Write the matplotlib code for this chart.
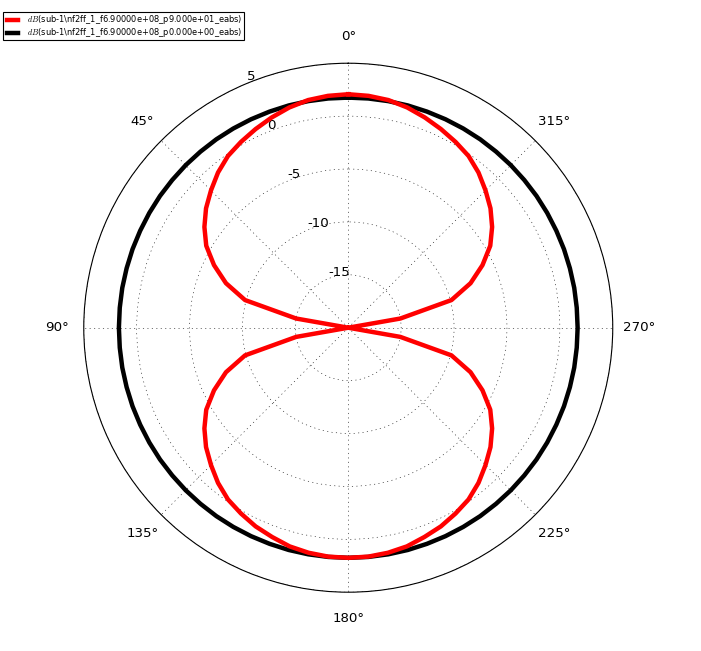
import numpy as np
import matplotlib
matplotlib.use("Agg")
import matplotlib.pyplot as plt

plt.style.use("classic")
plt.rcParams["axes.unicode_minus"] = False

# angles (degrees) at which the patterns are sampled
theta_deg = list(range(0, 361, 5))

# red: phi = 90 cut (dB)
red_db = [2.07, 2.00, 1.85, 1.55, 1.15, 0.72, 0.28, -0.18, -0.85, -1.65,
          -2.45, -3.40, -4.50, -6.00, -7.70, -9.90, -15.0, -20.0, -20.0,
          -20.0, -15.0, -9.90, -7.70, -6.00, -4.50, -3.40, -2.45, -1.65,
          -0.85, -0.18, 0.28, 0.72, 1.05, 1.40, 1.60, 1.72, 1.75,
          1.72, 1.60, 1.40, 1.05, 0.72, 0.28, -0.18, -0.85, -1.65,
          -2.45, -3.40, -4.50, -6.00, -7.70, -9.90, -15.0, -20.0, -20.0,
          -20.0, -15.0, -9.90, -7.70, -6.00, -4.50, -3.40, -2.45, -1.65,
          -0.85, -0.18, 0.28, 0.72, 1.15, 1.55, 1.85, 2.00, 2.07]

# black: phi = 0 cut (dB), omnidirectional
black_db = [1.75, 1.75, 1.75, 1.75, 1.74, 1.74, 1.74, 1.74, 1.73, 1.73,
            1.72, 1.72, 1.71, 1.70, 1.70, 1.69, 1.69, 1.68, 1.68, 1.68,
            1.69, 1.69, 1.70, 1.70, 1.71, 1.72, 1.72, 1.73, 1.73, 1.74,
            1.74, 1.74, 1.74, 1.75, 1.75, 1.75, 1.75, 1.75, 1.75, 1.75,
            1.74, 1.74, 1.74, 1.74, 1.73, 1.73, 1.72, 1.72, 1.71, 1.70,
            1.70, 1.69, 1.69, 1.68, 1.68, 1.68, 1.69, 1.69, 1.70, 1.70,
            1.71, 1.72, 1.72, 1.73, 1.73, 1.74, 1.74, 1.74, 1.74, 1.75,
            1.75, 1.75, 1.75]

labels = [r"$dB$(sub-1\nf2ff_1_f6.90000e+08_p9.000e+01_eabs)",
          r"$dB$(sub-1\nf2ff_1_f6.90000e+08_p0.000e+00_eabs)"]

r_ticks = [-15, -10, -5, 0, 5]
r_min, r_max = -20, 5

fig = plt.figure(figsize=(701 / 80, 651 / 80), dpi=80, facecolor="white")
ax = fig.add_axes([0.1195, 0.0903, 0.7546, 0.8126], projection="polar")
ax.set_theta_zero_location("N")
ax.set_theta_direction(1)

th = np.deg2rad(theta_deg)
l_black, = ax.plot(th, black_db, color="black", lw=4, label=labels[1], zorder=2)
l_red, = ax.plot(th, red_db, color="#ff0000", lw=4, label=labels[0], zorder=3)

ax.set_rlim(r_min, r_max)
ax.set_rticks(r_ticks)
ax.set_rlabel_position(22.5)
ax.set_thetagrids(np.arange(0, 360, 45))
ax.grid(True, color="black", linestyle=":", linewidth=0.5)
ax.tick_params(labelsize=12)
ax.tick_params(axis="x", pad=17)

fig.legend([l_red, l_black], labels, loc="upper left",
           bbox_to_anchor=(0.0047, 0.9808),
           bbox_transform=fig.transFigure, borderaxespad=0,
           fontsize=7.4, handlelength=2, fancybox=False, numpoints=2,
           borderpad=0.12, labelspacing=0.0, handletextpad=0.8)

fig.savefig("out.png", dpi=80, facecolor="white")
